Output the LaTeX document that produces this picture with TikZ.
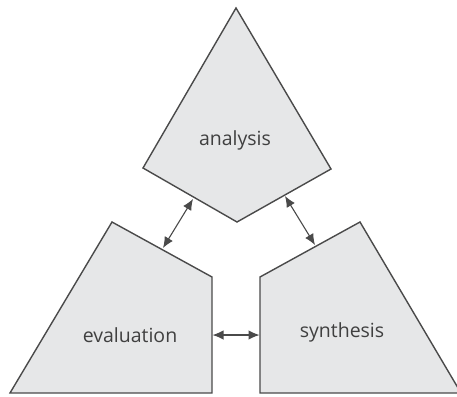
\documentclass[tikz,border=0pt]{standalone}
\usepackage{fontspec}
\setmainfont{Open Sans}
\usetikzlibrary{arrows.meta}
\definecolor{shapefill}{HTML}{E6E7E8}
\definecolor{shapeline}{HTML}{4A4A4A}
\definecolor{labeltext}{HTML}{404040}
\begin{document}
\begin{tikzpicture}[x=1pt,y=-1pt,
  shapebox/.style={fill=shapefill,draw=shapeline,line width=1.4pt,line join=miter},
  lbl/.style={text=labeltext,font=\fontsize{19.5}{22}\selectfont,inner sep=0pt},
  link/.style={draw=shapeline,line width=1.1pt,{Latex[length=11pt,width=9.5pt]}-{Latex[length=11pt,width=9.5pt]}}]
\useasboundingbox (0,0) rectangle (457,396);
\begin{scope}
\clip (0,0) rectangle (457,396);
% analysis
\draw[shapebox] (236,8) -- (331,169) -- (237,222) -- (143,168) -- cycle;
% evaluation
\draw[shapebox] (112,222) -- (212,277) -- (212,393) -- (10,393) -- cycle;
% synthesis
\draw[shapebox] (360,222) -- (260,277) -- (260,393) -- (461,393) -- cycle;
\end{scope}
\node[lbl] (analysis) at (235,140) {analysis};
\node[lbl] (evaluation) at (130,335) {evaluation};
\node[lbl] (synthesis) at (342,332) {synthesis};
\coordinate (aL) at (193,199);
\coordinate (eT) at (163,248);
\coordinate (aR) at (285,196);
\coordinate (sT) at (315,245);
\coordinate (eR) at (212.5,335);
\coordinate (sL) at (259.5,335);
\draw[link] (aL) -- (eT);
\draw[link] (aR) -- (sT);
\draw[link] (eR) -- (sL);
\end{tikzpicture}
\end{document}
